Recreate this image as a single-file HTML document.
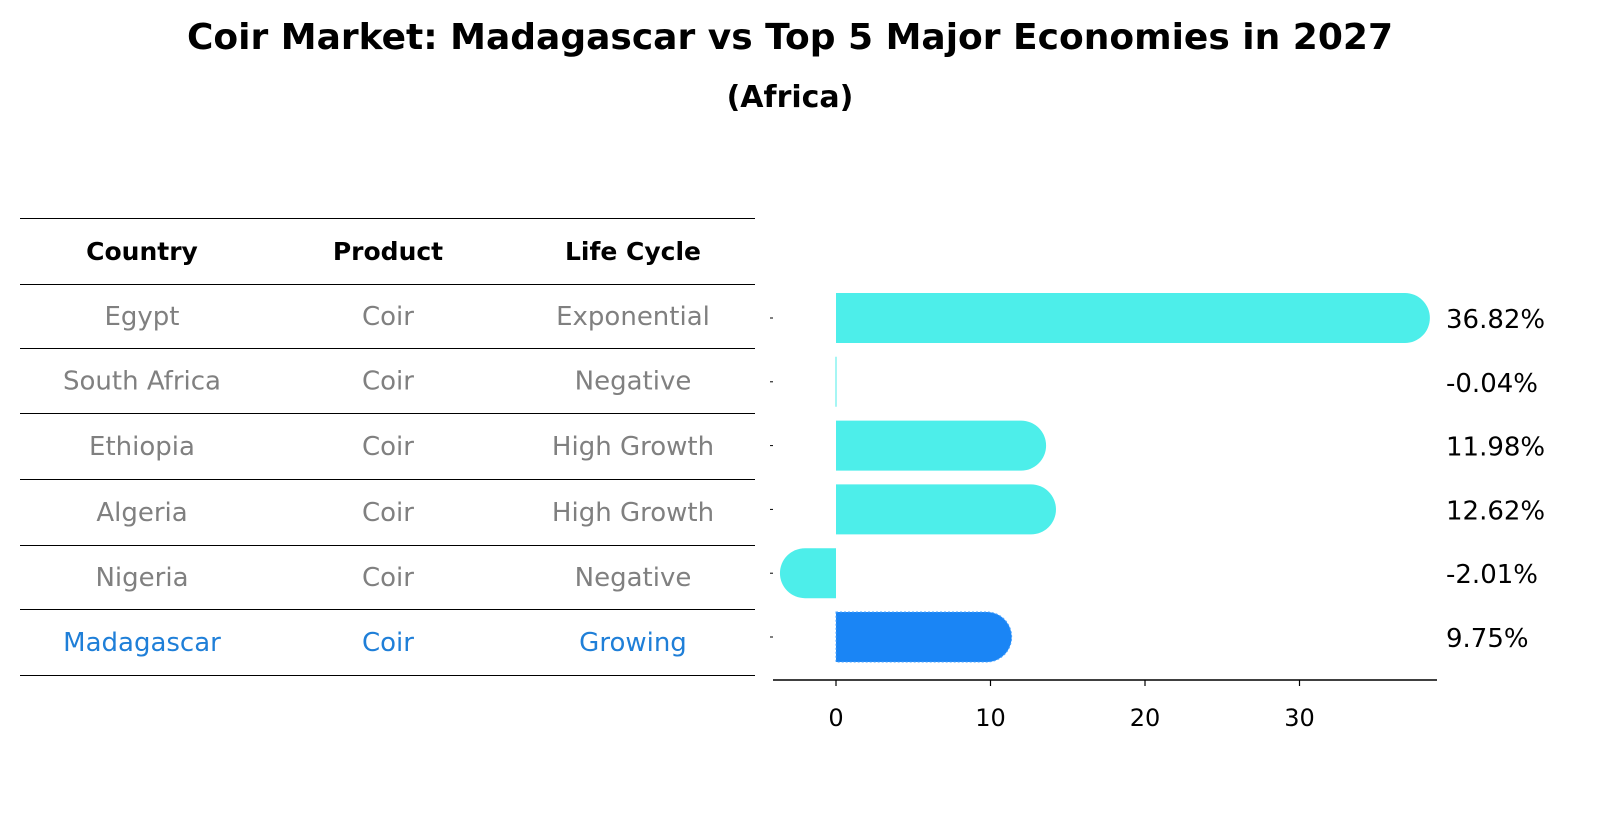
<!DOCTYPE html>
<html><head><meta charset="utf-8"><style>
html,body{margin:0;padding:0;background:#fff}
svg{display:block;font-family:"DejaVu Sans","Liberation Sans",sans-serif}
</style></head><body>
<svg id="chart" width="1604" height="823" viewBox="0 0 1604 823" xmlns="http://www.w3.org/2000/svg">
<text x="790" y="49" text-anchor="middle" font-size="36" font-weight="bold">Coir Market: Madagascar vs Top 5 Major Economies in 2027</text>
<text x="790" y="107" text-anchor="middle" font-size="30" font-weight="bold">(Africa)</text>
<g id="table"></g>
<g id="bars"></g>
</svg>
<script>
const countries=["Egypt","South Africa","Ethiopia","Algeria","Nigeria","Madagascar"];
const products=["Coir","Coir","Coir","Coir","Coir","Coir"];
const lifeCycles=["Exponential","Negative","High Growth","High Growth","Negative","Growing"];
const growthValues=[36.82,-0.04,11.98,12.62,-2.01,9.75];
const valueLabels=["36.82%","-0.04%","11.98%","12.62%","-2.01%","9.75%"];
const xTicks=[0,10,20,30];
const highlight="Madagascar";

const NS="http://www.w3.org/2000/svg";
function mk(tag,attrs,parent){const e=document.createElementNS(NS,tag);for(const k in attrs)e.setAttribute(k,attrs[k]);parent.appendChild(e);return e;}
const tbl=document.getElementById('table');
const bars=document.getElementById('bars');
const lineYs=[218,284,348,413,479,545,609,675];
const colX=[142,388,633];
lineYs.forEach((y,i)=>{const l=mk('line',{x1:20,x2:755,y1:y+0.5,y2:y+0.5,stroke:'#000','stroke-width':1},tbl);

});
["Country","Product","Life Cycle"].forEach((h,j)=>{const t=mk('text',{x:colX[j],y:260,'text-anchor':'middle','font-size':25,'font-weight':'bold'},tbl);t.textContent=h;

});
countries.forEach((c,i)=>{const cy=(lineYs[i+1]+lineYs[i+2])/2+9;const col=c===highlight?'#1f7fd8':'#808080';
[c,products[i],lifeCycles[i]].forEach((v,j)=>{const t=mk('text',{x:colX[j],y:cy,'text-anchor':'middle','font-size':26,fill:col},tbl);t.textContent=v;

});});
const x0=836,pxPer=15.45;
const xs=v=>x0+v*pxPer;
const yc=i=>318+i*63.8;
const h=50,r=25;
growthValues.forEach((v,i)=>{const col=countries[i]===highlight?'#1a85f5':'#4deeea';
const cy=yc(i),xe=xs(v),top=cy-h/2;let d;
if(Math.abs(v)<0.5){d=`M${x0-0.5},${top}h1v${h}h-1z`;}
else if(v>=0){d=`M${x0},${top}H${xe}A${r},${r} 0 0 1 ${xe},${top+h}H${x0}Z`;}
else{d=`M${x0},${top}H${xe}A${r},${r} 0 0 0 ${xe},${top+h}H${x0}Z`;}
const p=mk('path',{d:d,fill:col},bars);
if(countries[i]===highlight){p.setAttribute('stroke','#4aa3ff');p.setAttribute('stroke-dasharray','2,2');p.setAttribute('stroke-width','1');}


const t=mk('text',{x:1446,y:cy+10,'font-size':26},bars);t.textContent=valueLabels[i];


const tk=mk('line',{x1:770,x2:773,y1:cy,y2:cy,stroke:'#000','stroke-width':1},bars);

});
const ax=mk('line',{x1:773,x2:1437,y1:680,y2:680,stroke:'#000','stroke-width':1.5},bars);


xTicks.forEach(v=>{const tk=mk('line',{x1:xs(v),x2:xs(v),y1:680,y2:686,stroke:'#000','stroke-width':1.2},bars);


const t=mk('text',{x:xs(v),y:726,'text-anchor':'middle','font-size':24},bars);t.textContent=v;

});
</script>
</body></html>
